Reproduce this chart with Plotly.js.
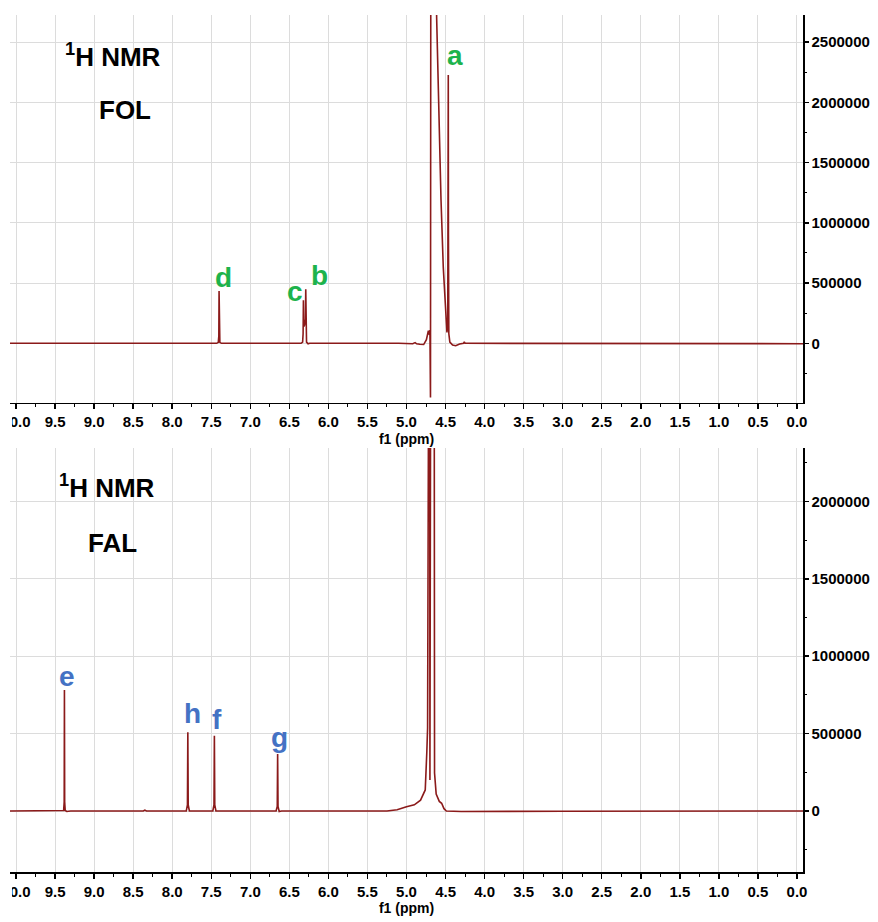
<!DOCTYPE html>
<html>
<head>
<meta charset="utf-8">
<script src="https://cdn.plot.ly/plotly-3.0.1.min.js"></script>
<style>
  html, body { margin: 0; padding: 0; background: #fff; }
  #nmr { width: 878px; height: 922px; }
</style>
</head>
<body>
<div id="nmr"></div>
<script>
// 1H NMR of furfuryl alcohol (FOL), chemical shift (ppm) vs intensity
const folPpm = [10.1, 8.8, 7.43, 7.41, 7.403, 7.40, 7.397, 7.39, 7.37,
  6.35, 6.33, 6.324, 6.32, 6.316, 6.306, 6.294, 6.29, 6.286, 6.28, 6.26, 6.24,
  5.10, 4.92, 4.89, 4.87, 4.83, 4.78, 4.745, 4.72, 4.707, 4.70, 4.693, 4.689,
  4.67, 4.65, 4.63, 4.614, 4.593, 4.558, 4.529, 4.498, 4.482, 4.472, 4.467, 4.465,
  4.463, 4.458, 4.445, 4.41, 4.37, 4.32, 4.27, 4.26, 4.25, 2.2, 2.18, -0.1];
const folInt = [0, 0, 0, 8000, 60000, 434000, 60000, 8000, 0,
  0, 10000, 80000, 357000, 140000, 150000, 200000, 448000, 80000, 10000, -4000, 0,
  0, -3000, 6000, -4000, -8000, -10000, 30000, 105000, 70000, 110000, -450000, 3000000,
  9000000, 6000000, 3600000, 2700000, 2020000, 1190000, 630000, 216000, 90000, 150000, 900000, 2226000,
  900000, 80000, 10000, -15000, -20000, -5000, 0, 12000, 0, 0, -3000, -3000];

// 1H NMR of furfural (FAL)
const falPpm = [10.1, 9.6, 9.39, 9.383, 9.38, 9.377, 9.37, 9.35, 9.30,
  8.37, 8.35, 8.33, 7.82, 7.805, 7.80, 7.795, 7.78,
  7.48, 7.465, 7.46, 7.455, 7.44, 6.67, 6.655, 6.65, 6.645, 6.63, 6.60,
  5.25, 5.12, 5.00, 4.90, 4.82, 4.76, 4.74, 4.73, 4.705, 4.70, 4.697, 4.67,
  4.645, 4.641, 4.62, 4.58, 4.55, 4.52, 4.49, 4.30, 3.00, 2.00, -0.1];
const falInt = [0, 0, 3000, 60000, 782000, 60000, 3000, -3000, 0,
  0, 6000, 0, 0, 40000, 508000, 40000, 0,
  0, 40000, 486000, 40000, 0, 0, 30000, 368000, 30000, -3000, 0,
  0, 8000, 28000, 40000, 70000, 136000, 380000, 536000, 5000000, 200000, 5000000, 9000000,
  3000000, 245000, 110000, 62000, 50000, 15000, 0, -3000, -2000, 0, 0];

// peak assignment labels
const folLabels = ['a', 'd', 'c', 'b'];
const folLabelPpm = [4.38, 7.34, 6.43, 6.11];
const folLabelInt = [2392000, 548000, 432000, 565000];
const falLabels = ['e', 'h', 'f', 'g'];
const falLabelPpm = [9.35, 7.74, 7.43, 6.62];
const falLabelInt = [872000, 627000, 588000, 472000];

const FONT = 'Liberation Sans, Arial, Helvetica, sans-serif';
const LINE_COLOR = '#8b1a1a';
const GRID = '#dcdcdc';
const GREEN = '#1db34c';
const BLUE = '#4472c4';

const traces = [
  { x: folPpm, y: folInt, xaxis: 'x', yaxis: 'y', type: 'scatter', mode: 'lines',
    line: { color: LINE_COLOR, width: 1.6 }, hoverinfo: 'skip' },
  { x: falPpm, y: falInt, xaxis: 'x2', yaxis: 'y2', type: 'scatter', mode: 'lines',
    line: { color: LINE_COLOR, width: 1.6 }, hoverinfo: 'skip' }
];

function ppmAxis(anchor) {
  return {
    anchor: anchor, domain: [0, 1],
    range: [10.077, -0.077], dtick: 0.5, tick0: 0, tickformat: '.1f',
    showgrid: true, gridcolor: GRID, gridwidth: 1, zeroline: false,
    showline: true, linecolor: '#000', linewidth: 1.5,
    ticks: 'outside', ticklen: 5, tickwidth: 1.5, tickcolor: '#000',
    ticklabeloverflow: 'allow',
    minor: { dtick: 0.25, ticks: 'outside', ticklen: 3, tickwidth: 1, tickcolor: '#000', showgrid: false },
    tickfont: { family: FONT, size: 15, color: '#000', weight: 'bold' },
    title: { text: 'f1 (ppm)', standoff: 4, font: { family: FONT, size: 14, color: '#000', weight: 'bold' } }
  };
}

function intAxis(anchor, domain, range) {
  return {
    anchor: anchor, domain: domain, side: 'right',
    range: range, dtick: 500000, tick0: 0, tickformat: 'd',
    showgrid: true, gridcolor: GRID, gridwidth: 1, zeroline: false,
    showline: true, linecolor: '#000', linewidth: 1.5,
    ticks: 'outside', ticklen: 4, tickwidth: 1.5, tickcolor: '#000',
    minor: { dtick: 250000, ticks: 'outside', ticklen: 2, tickwidth: 1, tickcolor: '#000', showgrid: false },
    tickfont: { family: FONT, size: 15, color: '#000', weight: 'bold' }
  };
}

const annotations = [];
function addText(text, x, y, xref, yref, size, color) {
  annotations.push({ text: text, x: x, y: y, xref: xref, yref: yref, showarrow: false,
    xanchor: 'center', yanchor: 'middle',
    font: { family: FONT, size: size, color: color, weight: 'bold' } });
}
addText('<sup>1</sup>H NMR', 8.76, 2392000, 'x', 'y', 26, '#000');
addText('FOL', 8.60, 1935000, 'x', 'y', 26, '#000');
addText('<sup>1</sup>H NMR', 8.84, 2093000, 'x2', 'y2', 26, '#000');
addText('FAL', 8.76, 1731000, 'x2', 'y2', 26, '#000');
folLabels.forEach((t, i) => addText(t, folLabelPpm[i], folLabelInt[i], 'x', 'y', 28, GREEN));
falLabels.forEach((t, i) => addText(t, falLabelPpm[i], falLabelInt[i], 'x2', 'y2', 28, BLUE));

// the figure is trimmed at its left edge, cutting into the leftmost tick label
const edgeMask = [
  { type: 'rect', xref: 'paper', yref: 'paper', layer: 'above',
    x0: -0.05, x1: 0.0025, y0: 0.515, y1: 0.544, fillcolor: '#fff', line: { width: 0 } },
  { type: 'rect', xref: 'paper', yref: 'paper', layer: 'above',
    x0: -0.05, x1: 0.0025, y0: -0.035, y1: -0.006, fillcolor: '#fff', line: { width: 0 } }
];

const layout = {
  width: 878, height: 922,
  margin: { l: 10, r: 75, t: 15, b: 50 },
  paper_bgcolor: '#fff', plot_bgcolor: '#fff',
  showlegend: false,
  xaxis: ppmAxis('y'),
  yaxis: intAxis('x', [0.5473, 1], [-495000, 2725000]),
  xaxis2: ppmAxis('y2'),
  yaxis2: intAxis('x2', [0, 0.4948], [-394000, 2345000]),
  annotations: annotations,
  shapes: edgeMask
};

Plotly.newPlot('nmr', traces, layout, { displayModeBar: false, staticPlot: true });
</script>
</body>
</html>
